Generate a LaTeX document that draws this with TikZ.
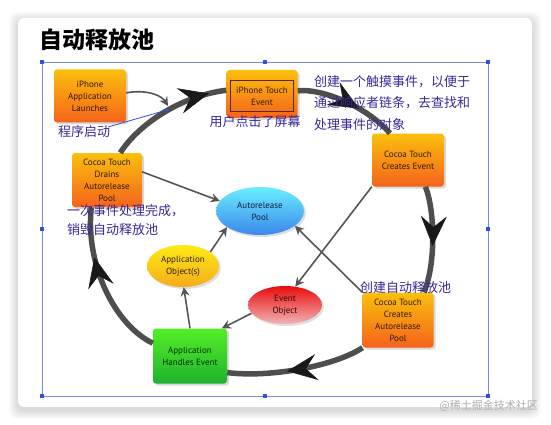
\documentclass[tikz,border=0pt]{standalone}
\usepackage{fontspec}
\setmainfont{PT Sans}
\newfontfamily\cjk{Noto Sans CJK SC}
\usetikzlibrary{arrows.meta,decorations.markings,shapes.geometric,shadows}
\definecolor{lbl}{RGB}{58,42,150}
\definecolor{orTop}{RGB}{251,192,12}
\definecolor{orBot}{RGB}{244,98,28}
\definecolor{ring}{RGB}{78,78,78}
\definecolor{ringdark}{RGB}{25,25,25}
\definecolor{thinc}{RGB}{85,85,85}
\definecolor{frameblue}{RGB}{120,135,225}
\definecolor{handleblue}{RGB}{50,80,220}
\definecolor{txtbrown}{RGB}{45,25,5}
\definecolor{grTop}{RGB}{85,238,40}
\definecolor{grBot}{RGB}{30,178,45}
\definecolor{cyTop}{RGB}{105,238,255}
\definecolor{cyBot}{RGB}{60,135,235}
\definecolor{yeTop}{RGB}{255,235,20}
\definecolor{yeBot}{RGB}{244,172,28}
\definecolor{reTop}{RGB}{232,12,12}
\definecolor{reBot}{RGB}{242,180,180}
\definecolor{wm}{RGB}{175,175,175}
\tikzset{
  boxbase/.style={rectangle, rounded corners=3pt, draw=none, align=center,
    inner sep=1pt, font=\fontsize{9}{12}\selectfont,
    drop shadow={shadow xshift=2pt, shadow yshift=-2pt, opacity=0.3}},
  obox/.style={boxbase, top color=orTop, bottom color=orBot, text=txtbrown},
  gbox/.style={boxbase, top color=grTop, bottom color=grBot, text={rgb,255:red,5;green,45;blue,10}},
  oval/.style={ellipse, draw=none, align=center, inner sep=0pt,
    font=\fontsize{9}{12}\selectfont,
    drop shadow={shadow xshift=2pt, shadow yshift=-2pt, opacity=0.25}},
  lbltxt/.style={font=\cjk\fontsize{13}{21}\selectfont, text=lbl, inner sep=0pt},
  ringseg/.style={draw=ring, line width=5.5pt, postaction={decorate},
    decoration={markings, mark=at position #1 with
      {\arrow{Stealth[length=30pt,width=26pt,inset=11pt,line width=0.6pt,color=ringdark]}}}},
  thinarr/.style={draw=thinc, line width=1.6pt, -{Stealth[length=9pt,width=9pt,inset=3pt]}},
  handle/.style={fill=handleblue, minimum size=3.5pt, inner sep=0pt, rectangle}
}
\begin{document}
\begin{tikzpicture}[x=1pt,y=-1pt]
\useasboundingbox (0,0) rectangle (551,425);
\fill[white] (0,0) rectangle (551,425);
% card shadow
\foreach \i in {1,...,9}{
  \fill[black, opacity=0.014, rounded corners=8pt] (18-\i,18-\i+3) rectangle (532+\i,407+\i+3);
}
\fill[white, rounded corners=6pt] (18,18) rectangle (532,407);
% title
\node[font=\cjk\bfseries\fontsize{23}{26}\selectfont, anchor=base west, inner sep=0pt] (title) at (39,49) {自动释放池};
% selection frame
\draw[frameblue, line width=0.6pt] (42,62) rectangle (488,396);
\foreach \p [count=\k] in {(42,62),(265,62),(488,62),(42,229),(488,229),(42,396),(265,396),(488,396)}{
  \node[handle] (h\k) at \p {};
}
% nodes
\node[obox, minimum width=72pt, minimum height=53pt] (launch) at (90,96) {iPhone\\Application\\Launches};
\node[obox, minimum width=71pt, minimum height=48pt] (tevent) at (262,94) {};
\node[draw={rgb,255:red,90;green,40;blue,10}, line width=0.9pt, minimum width=63pt, minimum height=31pt,
      font=\fontsize{9}{12}\selectfont, text=txtbrown, align=center, inner sep=0pt] (tin) at (262,96) {iPhone Touch\\Event};
\node[obox, minimum width=72pt, minimum height=53pt] (cevent) at (408,160) {Cocoa Touch\\Creates Event};
\node[obox, minimum width=71pt, minimum height=55pt] (cpool) at (398,320) {Cocoa Touch\\Creates\\Autorelease\\Pool};
\node[gbox, minimum width=74pt, minimum height=55pt] (handles) at (190,356) {Application\\Handles Event};
\node[obox, minimum width=70pt, minimum height=54pt] (drains) at (107,180) {Cocoa Touch\\Drains\\Autorelease\\Pool};
\node[oval, minimum width=88pt, minimum height=48pt, top color=cyTop, bottom color=cyBot,
      text={rgb,255:red,15;green,30;blue,65}] (apool) at (260,211) {Autorelease\\Pool};
\node[oval, minimum width=72pt, minimum height=42pt, top color=yeTop, bottom color=yeBot,
      text={rgb,255:red,45;green,30;blue,5}] (appobj) at (183,266) {Application\\Object(s)};
\node[oval, minimum width=74pt, minimum height=38pt, top color=reTop, bottom color=reBot,
      text={rgb,255:red,55;green,8;blue,8}] (eobj) at (285,305) {Event\\Object};
% ring
\draw[ringseg=0.86] (drains.64) .. controls (138,125) and (180,96) .. (tevent.174);
\draw[ringseg=0.62] (tevent.5) .. controls (320,88) and (365,105) .. (cevent.124);
\draw[ringseg=0.56] (cevent.303) .. controls (435,210) and (436,265) .. (cpool.47);
\draw[ringseg=0.57] (cpool.218) .. controls (335,366) and (270,378) .. (handles.336.6);
\draw[ringseg=0.68] (handles.161) .. controls (115,325) and (85,265) .. (drains.240);
% thin arrows
\coordinate (ringpt) at (168,106);
\draw[thinarr] (launch.5) .. controls (148,89) and (162,96) .. (ringpt);
\draw[thinarr] (drains.13) -- (apool.166);
\draw[thinarr] (appobj.27) -- (apool.206);
\draw[thinarr] (handles.north) -- (appobj.272);
\draw[thinarr] (cevent.south west) -- (eobj.61);
\draw[thinarr] (cpool.north west) -- (apool.337);
\draw[thinarr] (eobj.194) -- (handles.41);
% labels
\node[lbltxt, anchor=base] (qd) at (84,136) {程序启动};
\coordinate (qdpt) at (108,127);
\coordinate (bluedot) at (167,110);
\draw[handleblue, line width=0.8pt] (qdpt) -- (bluedot);
\fill[handleblue] (bluedot) circle (1.8pt);
\node[lbltxt, anchor=base] (yh) at (255,127) {用户点击了屏幕};
\node[lbltxt, anchor=base west] (c1) at (314,87) {创建一个触摸事件，以便于};
\node[lbltxt, anchor=base west] (c2) at (314,108) {通过响应者链条，去查找和};
\node[lbltxt, anchor=base west] (c3) at (314,129) {处理事件的对象};
\node[lbltxt, anchor=base west] (d1) at (67,215) {一次事件处理完成，};
\node[lbltxt, anchor=base west] (d2) at (67,234) {销毁自动释放池};
\node[lbltxt, anchor=base west] (e1) at (360,292) {创建自动释放池};
% watermark
\node[font=\cjk\fontsize{11}{13}\selectfont, text=wm, anchor=base east, inner sep=0pt] (wmk) at (538,409) {@稀土掘金技术社区};
\end{tikzpicture}
\end{document}
